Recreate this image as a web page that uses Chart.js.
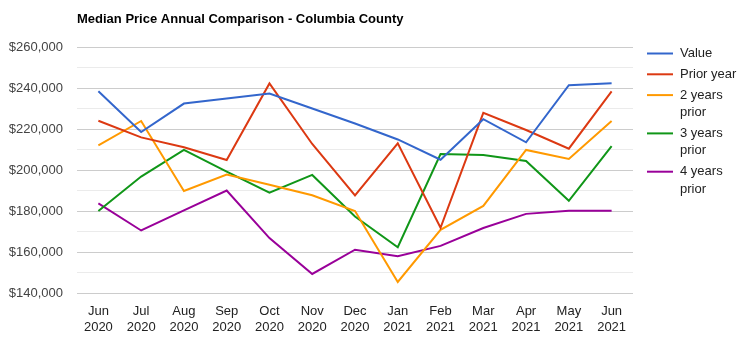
<!DOCTYPE html>
<html>
<head>
<meta charset="utf-8">
<style>
  html, body { margin: 0; padding: 0; background: #ffffff; }
  #wrap { position: relative; width: 746px; height: 349px; }
</style>
<script src="https://cdn.jsdelivr.net/npm/chart.js@4/dist/chart.umd.min.js"></script>
</head>
<body>
<div id="wrap"><canvas id="chart" width="746" height="349"></canvas></div>
<script>
// Monthly labels (two lines each)
const months = [
  ["Jun", "2020"], ["Jul", "2020"], ["Aug", "2020"], ["Sep", "2020"],
  ["Oct", "2020"], ["Nov", "2020"], ["Dec", "2020"], ["Jan", "2021"],
  ["Feb", "2021"], ["Mar", "2021"], ["Apr", "2021"], ["May", "2021"],
  ["Jun", "2021"]
];

// Median sale price series
const valueSeries      = [238400, 218500, 232400, 234900, 237300, 230000, 222700, 214900, 205000, 224800, 213500, 241400, 242300];
const priorYear        = [224000, 215900, 211100, 204900, 242200, 212700, 187600, 213000, 171800, 227900, 219500, 210400, 238400];
const twoYearsPrior    = [212000, 223900, 189800, 197800, 192800, 187700, 180000, 145400, 170800, 182500, 209800, 205400, 223900];
const threeYearsPrior  = [180000, 196800, 209800, 199200, 188900, 197600, 177300, 162300, 207800, 207300, 204400, 185000, 211700];
const fourYearsPrior   = [183700, 170500, 180300, 190000, 166800, 149300, 161100, 157900, 163000, 171700, 178600, 180100, 180100];

// Axis range and tick spacing
const yMin = 140000;
const yMax = 260000;
const yStep = 10000;
const yLabelStep = 20000;

const seriesNames = ["Value", "Prior year", "2 years prior", "3 years prior", "4 years prior"];
const seriesColors = ["#3366cc", "#dc3912", "#ff9900", "#109618", "#990099"];
const seriesData = [valueSeries, priorYear, twoYearsPrior, threeYearsPrior, fourYearsPrior];

const FONT = "Arial, 'Liberation Sans', sans-serif";

// Legend on the right, wrapping long labels
const sideLegend = {
  id: 'sideLegend',
  afterDraw(chart) {
    const ctx = chart.ctx;
    const lineX0 = 647, lineX1 = 673, textX = 680, maxW = 62;
    const lineH = 17.5, gap = 20.8;
    let y = 53.5;
    ctx.save();
    ctx.font = "13px " + FONT;
    ctx.textBaseline = 'middle';
    ctx.textAlign = 'left';
    chart.data.datasets.forEach((ds) => {
      // word wrap
      const words = ds.label.split(' ');
      const lines = [];
      let cur = '';
      words.forEach(w => {
        const t = cur ? cur + ' ' + w : w;
        if (ctx.measureText(t).width > maxW && cur) { lines.push(cur); cur = w; }
        else cur = t;
      });
      if (cur) lines.push(cur);
      ctx.strokeStyle = ds.borderColor;
      ctx.lineWidth = 2;
      ctx.beginPath();
      ctx.moveTo(lineX0, y);
      ctx.lineTo(lineX1, y);
      ctx.stroke();
      ctx.fillStyle = '#222222';
      lines.forEach((l, i) => ctx.fillText(l, textX, y + i * lineH));
      y += gap + (lines.length - 1) * lineH;
    });
    ctx.restore();
  }
};

// Title text at top-left
const titleText = {
  id: 'titleText',
  afterDraw(chart) {
    const ctx = chart.ctx;
    ctx.save();
    ctx.font = "bold 13px " + FONT;
    ctx.fillStyle = '#000000';
    ctx.textBaseline = 'middle';
    ctx.textAlign = 'left';
    ctx.fillText("Median Price Annual Comparison - Columbia County", 77, 19);
    ctx.restore();
  }
};

new Chart(document.getElementById('chart'), {
  type: 'line',
  data: {
    labels: months,
    datasets: seriesData.map((d, i) => ({
      label: seriesNames[i],
      data: d,
      borderColor: seriesColors[i],
      backgroundColor: seriesColors[i],
      borderWidth: 2,
      pointRadius: 0,
      pointHoverRadius: 0,
      tension: 0,
      fill: false
    }))
  },
  options: {
    responsive: false,
    animation: false,
    events: [],
    layout: { padding: { left: 0, right: 113, top: 47, bottom: 16 } },
    plugins: {
      legend: { display: false },
      title: { display: false },
      tooltip: { enabled: false }
    },
    scales: {
      x: {
        offset: true,
        grid: { display: false, drawTicks: false },
        border: { display: false },
        ticks: {
          padding: 10,
          color: '#222222',
          maxRotation: 0,
          autoSkip: false,
          font: { family: FONT, size: 13, lineHeight: 16 / 13 }
        },
        afterFit(scale) { scale.height = 40; }
      },
      y: {
        min: yMin,
        max: yMax,
        grid: {
          drawTicks: false,
          lineWidth: 1,
          color: (c) => (c.tick && c.tick.value % yLabelStep === 0) ? '#cccccc' : '#ebebeb'
        },
        border: { display: false },
        ticks: {
          stepSize: yStep,
          padding: 14,
          color: '#444444',
          font: { family: FONT, size: 13 },
          callback: (v) => (v % yLabelStep === 0) ? '$' + v.toLocaleString('en-US') : ''
        },
        afterFit(scale) { scale.width = 77; }
      }
    }
  },
  plugins: [sideLegend, titleText]
});
</script>
</body>
</html>
